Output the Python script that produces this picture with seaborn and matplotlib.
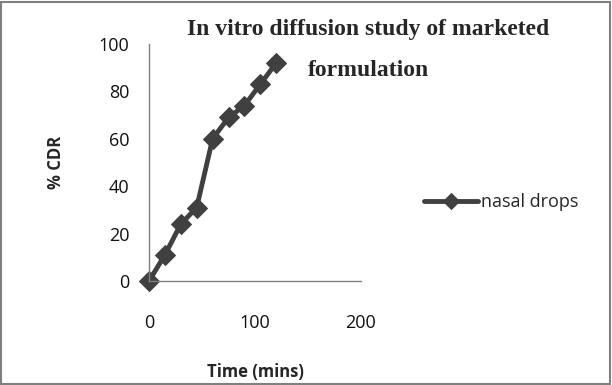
import matplotlib
matplotlib.use("Agg")
import matplotlib.pyplot as plt
import seaborn as sns
import pandas as pd

time_mins = [0, 15, 30, 45, 60, 75, 90, 105, 120]
cdr = [0, 11, 24, 31, 60, 69, 74, 83, 92]
series_name = "nasal drops"
x_ticks = [0, 100, 200]
y_ticks = [0, 20, 40, 60, 80, 100]

df = pd.DataFrame({"Time (mins)": time_mins, "% CDR": cdr, "series": series_name})

sns.set_style("white")
plt.rcParams['font.family'] = ['Open Sans', 'DejaVu Sans']

fig = plt.figure(figsize=(6.12, 3.85), dpi=100)
ax = fig.add_axes([149/612, 1-281/385, (361-149)/612, (281-44)/385])
sns.lineplot(data=df, x="Time (mins)", y="% CDR", hue="series", palette=["#404040"],
             marker="D", markersize=10, linewidth=3.5, markeredgecolor="#404040", ax=ax)
ax.set_xlim(0, 200)
ax.set_ylim(0, 100)
ax.set_xticks(x_ticks)
ax.set_yticks(y_ticks)
for s in ["top", "right"]:
    ax.spines[s].set_visible(False)
for s in ["left", "bottom"]:
    ax.spines[s].set_color("#808080")
    ax.spines[s].set_linewidth(1)
ax.tick_params(axis="both", direction="out", length=4, color="#808080", labelsize=13, colors="#808080", labelcolor="#111111")
ax.tick_params(axis="x", pad=20)
ax.tick_params(axis="y", pad=10)
ax.set_xlabel("Time (mins)", fontsize=12, fontweight="bold", labelpad=22)
ax.set_ylabel("% CDR", fontsize=12, fontweight="bold", labelpad=24)
ax.get_legend().remove()
for line in ax.lines:
    line.set_clip_on(False)

handles, labels = ax.get_legend_handles_labels()
leg = fig.legend(handles, [series_name], loc="center left", bbox_to_anchor=(408/612, 1-202/385),
                 frameon=False, fontsize=13, handlelength=3.0, handletextpad=0.15, markerscale=0.8)

fig.text(368/612, 1-30/385, "In vitro diffusion study of marketed", ha="center", va="center",
         fontsize=17, fontweight="bold", family="Liberation Serif")
fig.text(368/612, 1-70/385, "formulation", ha="center", va="center",
         fontsize=17, fontweight="bold", family="Liberation Serif")

border = plt.Rectangle((0.002, 0.003), 0.995, 0.993, transform=fig.transFigure, fill=False,
                       edgecolor="#808080", linewidth=1.5)
fig.add_artist(border)

fig.savefig("out.png", dpi=100)
